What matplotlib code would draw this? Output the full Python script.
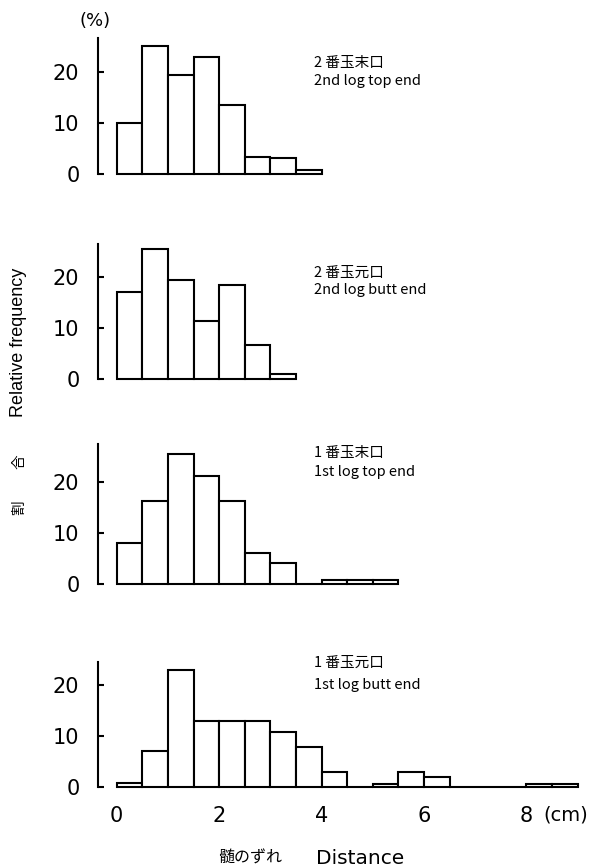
import numpy as np
import matplotlib
matplotlib.use("Agg")
import matplotlib.pyplot as plt

# relative frequency (%) per 0.5 cm class, starting at 0 cm
bin_width = 0.5
top_end_2nd = [10, 25, 19.5, 23, 13.6, 3.3, 3.2, 0.7]
butt_end_2nd = [17, 25.5, 19.5, 11.3, 18.5, 6.7, 1]
top_end_1st = [8, 16.3, 25.5, 21.2, 16.3, 6.1, 4.2, 0, 0.7, 0.7, 0.7]
butt_end_1st = [0.8, 7, 23, 13, 13, 13, 10.8, 7.8, 3, 0, 0.6, 3, 2, 0, 0, 0, 0.6, 0.6]

panel_data = [top_end_2nd, butt_end_2nd, top_end_1st, butt_end_1st]
panel_jp = ["2 番玉末口", "2 番玉元口", "1 番玉末口", "1 番玉元口"]
panel_en = ["2nd log top end", "2nd log butt end", "1st log top end", "1st log butt end"]
y_ticks = [0, 10, 20]
x_ticks = [0, 2, 4, 6, 8]

# layout (pixels)
W, H = 596, 868
baselines = [174, 379, 584, 787]
spine_tops = [26.7, 26.5, 27.5, 24.6]
label_rows = [(21.8, 18.2), (20.8, 17.5), (25.7, 22.0), (24.3, 20.0)]
px_unit = 5.1
x0_px, px_cm = 116.7, 51.2
ax_left_px, ax_right_px = 97.5, 596
ylo, yhi = -1.2, 28

cjk = ["Noto Sans CJK JP", "DejaVu Sans"]
lw = 1.5

fig = plt.figure(figsize=(W / 100, H / 100), dpi=100)

xlim = ((ax_left_px - x0_px) / px_cm, (ax_right_px - x0_px) / px_cm)

for i, vals in enumerate(panel_data):
    bottom_px = baselines[i] - ylo * px_unit
    ax = fig.add_axes([ax_left_px / W, (H - bottom_px) / H,
                       (ax_right_px - ax_left_px) / W, (yhi - ylo) * px_unit / H])
    lefts = np.arange(len(vals)) * bin_width
    ax.bar(lefts, vals, width=bin_width, align="edge", color="white",
           edgecolor="black", linewidth=lw)
    ax.set_xlim(*xlim)
    ax.set_ylim(ylo, yhi)
    for s in ["top", "right", "bottom"]:
        ax.spines[s].set_visible(False)
    ax.spines["left"].set_bounds(0, spine_tops[i])
    ax.spines["left"].set_linewidth(lw)
    ax.set_yticks(y_ticks)
    ax.tick_params(axis="y", direction="in", length=4, width=lw, pad=13,
                   labelsize=15)
    if i == 3:
        ax.set_xticks(x_ticks)
        ax.tick_params(axis="x", length=0, pad=9, labelsize=15)
    else:
        ax.set_xticks([])
    ax.text(3.85, label_rows[i][0], panel_jp[i], family=cjk, fontsize=10.5,
            va="center", ha="left")
    ax.text(3.85, label_rows[i][1], panel_en[i], family=cjk, fontsize=10.5,
            va="center", ha="left")

fig.text(95 / W, 1 - 21 / H, "(%)", fontsize=13, ha="center", va="center")
fig.text(543 / W, 1 - 815 / H, "(cm)", fontsize=14, ha="left", va="center")

# y label
fig.text(19 / W, 1 - 342 / H, "Relative frequency", family="Liberation Sans",
         fontsize=13, rotation=90, ha="center", va="center")
fig.text(19 / W, 1 - 462 / H, "合", family=cjk, fontsize=10.5, rotation=90,
         ha="center", va="center")
fig.text(19 / W, 1 - 508 / H, "割", family=cjk, fontsize=10.5, rotation=90,
         ha="center", va="center")

# x label
fig.text(250 / W, 1 - 858 / H, "髄のずれ", family=cjk, fontsize=11.5,
         ha="center", va="center")
fig.text(360 / W, 1 - 858 / H, "Distance", fontsize=14.5,
         ha="center", va="center")

fig.savefig("out.png", dpi=100)
